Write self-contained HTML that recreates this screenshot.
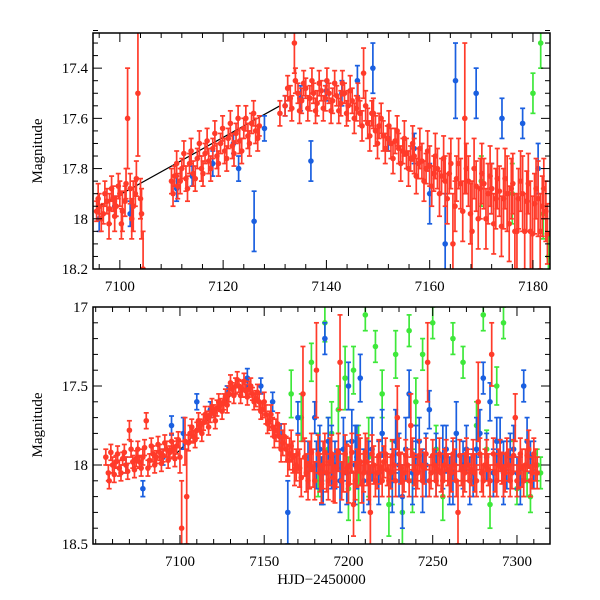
<!DOCTYPE html>
<html><head><meta charset="utf-8"><style>
body{margin:0;background:#fff}
svg{display:block}
text{font-family:"Liberation Serif",serif;font-size:15px;fill:#000}
</style></head><body>
<svg id="c" width="600" height="600" xmlns="http://www.w3.org/2000/svg"></svg>
<script>
// Top panel data (t, mag, err)
const topRed=[7095.5,17.97,.04,7096,17.95,.05,7096.8,17.98,.04,7097.5,17.93,.05,7098,17.96,.06,7098.7,17.92,.05,7099.3,17.95,.04,7100,17.9,.05,7100.5,17.97,.08,7101,17.93,.06,7101.5,17.6,.2,7102,17.88,.06,7102.6,17.95,.1,7103,17.9,.05,7103.5,17.5,.25,7104,17.92,.08,7104.5,18.2,.15,7110,17.85,.05,7110.6,17.83,.04,7111.2,17.87,.05,7112,17.8,.04,7112.8,17.84,.05,7113.5,17.78,.04,7114.2,17.82,.05,7115,17.76,.04,7115.8,17.8,.05,7116.5,17.74,.04,7117.2,17.77,.05,7118,17.72,.04,7118.8,17.75,.05,7119.5,17.7,.04,7120.3,17.73,.05,7121,17.68,.04,7121.8,17.71,.05,7122.5,17.66,.04,7123.2,17.69,.05,7124,17.64,.04,7124.8,17.67,.05,7125.5,17.62,.04,7126.3,17.65,.05,7127,17.63,.04,7132,17.55,.04,7133,17.52,.05,7133.8,17.3,.12,7134.5,17.5,.04,7135.2,17.53,.05,7136,17.48,.04,7136.8,17.52,.05,7137.5,17.5,.04,7138.2,17.54,.05,7139,17.49,.04,7139.8,17.52,.05,7140.5,17.5,.04,7141.2,17.53,.05,7142,17.51,.04,7142.8,17.54,.05,7143.5,17.5,.04,7144.2,17.55,.06,7145,17.53,.05,7145.8,17.56,.05,7146.5,17.58,.05,7147.2,17.42,.1,7148,17.62,.06,7148.8,17.58,.05,7149.5,17.65,.06,7150.2,17.63,.05,7151,17.67,.06,7151.8,17.68,.05,7152.5,17.7,.06,7153.3,17.69,.05,7154,17.72,.06,7154.8,17.73,.05,7155.5,17.74,.06,7156.3,17.76,.05,7157,17.75,.07,7157.8,17.78,.06,7158.5,17.77,.07,7159.3,17.8,.06,7160,17.79,.08,7160.8,17.82,.07,7161.5,17.8,.08,7162.3,17.83,.07,7163,17.85,.1,7163.8,17.82,.08,7164.5,18.1,.2,7165.2,17.84,.09,7166,17.86,.1,7166.8,17.6,.3,7167.5,17.85,.1,7168.2,18.05,.2,7169,17.87,.1,7169.8,17.88,.12,7170.5,17.86,.1,7171.3,17.9,.12,7172,17.88,.1,7172.8,17.92,.12,7173.5,17.89,.1,7174.3,17.92,.12,7175,17.9,.15,7175.8,17.88,.12,7176.5,18.05,.15,7177.2,17.92,.12,7178,17.9,.15,7178.8,17.93,.12,7179.5,18.05,.2,7180.3,17.94,.12,7181,17.92,.15,7181.8,17.95,.12,7182.5,17.97,.12];
const topRed2=[7095.8,17.92,.06,7096.4,18.0,.05,7097.1,17.9,.05,7097.9,18.02,.06,7098.4,17.88,.05,7099,17.99,.06,7099.7,17.87,.05,7100.3,18.02,.06,7101.2,17.86,.06,7102.3,18.0,.08,7103.2,17.84,.07,7104.2,17.98,.1,7110.3,17.9,.05,7111,17.78,.05,7111.7,17.85,.05,7112.4,17.74,.05,7113.1,17.88,.05,7113.8,17.73,.05,7114.6,17.84,.05,7115.4,17.7,.05,7116.1,17.82,.05,7116.9,17.69,.05,7117.6,17.8,.05,7118.4,17.66,.05,7119.1,17.78,.05,7119.9,17.64,.05,7120.7,17.76,.05,7121.4,17.62,.05,7122.1,17.74,.05,7122.9,17.6,.05,7123.6,17.73,.05,7124.4,17.6,.05,7125.1,17.7,.05,7125.9,17.58,.05,7126.7,17.68,.05,7131,17.58,.05,7132.5,17.48,.05,7133.3,17.56,.05,7134,17.45,.05,7134.8,17.57,.05,7135.6,17.46,.05,7136.4,17.56,.05,7137.2,17.45,.05,7137.9,17.57,.05,7138.6,17.46,.05,7139.4,17.56,.05,7140.1,17.45,.05,7140.9,17.57,.05,7141.6,17.46,.05,7142.4,17.57,.05,7143.1,17.46,.05,7143.9,17.58,.05,7144.6,17.49,.06,7145.4,17.6,.06,7146.1,17.52,.06,7146.9,17.63,.06,7147.6,17.55,.06,7148.4,17.67,.06,7149.1,17.58,.06,7149.9,17.7,.06,7150.6,17.6,.06,7151.4,17.72,.06,7152.1,17.63,.06,7152.9,17.76,.06,7153.7,17.65,.06,7154.4,17.78,.07,7155.1,17.68,.07,7155.9,17.8,.07,7156.7,17.7,.07,7157.4,17.83,.07,7158.1,17.72,.08,7158.9,17.85,.08,7159.6,17.73,.08,7160.4,17.87,.08,7161.1,17.75,.09,7161.9,17.9,.09,7162.7,17.76,.09,7163.4,17.92,.1,7164.1,17.78,.1,7164.9,17.95,.1,7165.6,17.78,.1,7166.4,17.97,.12,7167.1,17.8,.1,7167.9,17.98,.12,7168.6,17.8,.12,7169.4,18.0,.12,7170.1,17.82,.12,7170.9,18.0,.12,7171.7,17.83,.12,7172.4,18.02,.12,7173.1,17.84,.12,7173.9,18.03,.12,7174.6,17.84,.12,7175.4,18.02,.15,7176.1,17.86,.12,7176.9,18.05,.15,7177.6,17.85,.12,7178.4,18.05,.15,7179.1,17.86,.12,7179.9,18.06,.15,7180.6,17.88,.12,7181.4,18.05,.15,7182.1,17.88,.12,7182.8,18.06,.12];
const topBlue=[7096,18.0,.05,7099,17.95,.04,7102,17.98,.05,7111,17.88,.05,7114,17.83,.04,7118,17.78,.05,7122,17.7,.04,7123,17.8,.05,7126,18.01,.12,7128,17.64,.05,7132,17.55,.04,7135,17.52,.05,7137,17.77,.08,7140,17.49,.04,7143,17.5,.05,7146,17.45,.06,7149,17.4,.1,7152,17.68,.05,7157,17.72,.06,7160,17.9,.12,7163,18.1,.2,7165,17.45,.15,7169,17.5,.1,7172,17.88,.1,7174,17.6,.08,7178,17.62,.06,7181,17.8,.1];
const topGreen=[7170,17.85,.1,7176,17.9,.12,7180,17.5,.08,7181.5,17.3,.1,7182,17.98,.1,7183,18.15,.08];
// Bottom panel data
const botRed=[7058,18.1,.05,7060,18.0,.05,7062,17.98,.04,7064,18.02,.05,7066,17.96,.04,7068,18.0,.05,7070,17.78,.06,7072,17.98,.04,7074,17.96,.05,7076,17.98,.04,7078,17.95,.05,7080,17.72,.05,7082,17.97,.04,7084,17.93,.05,7086,17.95,.04,7088,17.92,.05,7090,17.94,.04,7092,17.9,.05,7094,17.92,.04,7096,17.9,.05,7098,17.88,.05,7100,17.95,.1,7101,18.4,.3,7103,17.85,.15,7104,18.2,.3,7106,17.8,.05,7108,17.82,.04,7110,17.78,.05,7112,17.75,.04,7114,17.73,.05,7116,17.7,.04,7118,17.68,.05,7120,17.66,.04,7122,17.64,.05,7124,17.62,.04,7126,17.6,.05,7129,17.55,.05,7131,17.52,.04,7133,17.5,.05,7135,17.5,.04,7137,17.52,.05,7139,17.53,.04,7141,17.52,.05,7143,17.55,.04,7145,17.58,.05,7147,17.6,.05,7149,17.65,.05,7151,17.68,.06,7153,17.72,.06,7155,17.76,.06,7157,17.78,.07,7159,17.82,.07,7161,17.86,.08,7163,17.9,.08,7165,17.93,.1,7167,17.95,.1,7169,18.0,.1,7171,18.02,.12,7173,17.55,.3,7175,18.05,.12,7177,18.0,.15,7179,18.02,.12,7181,17.4,.3,7183,18.05,.12,7185,18.0,.15,7187,18.05,.12,7189,17.98,.15,7191,18.08,.15,7193,18.02,.12,7195,17.35,.3,7197,18.05,.12,7199,18.02,.15,7201,18.0,.12,7203,18.25,.2,7205,18.02,.12,7207,17.98,.15,7209,18.05,.12,7211,17.98,.15,7213,18.3,.3,7215,18.0,.12,7217,18.05,.1,7219,18.02,.1,7221,17.98,.1,7223,18.03,.1,7225,18.05,.1,7227,18.0,.1,7229,17.7,.2,7231,18.02,.1,7233,18.05,.12,7235,18.0,.1,7237,17.75,.2,7239,18.03,.1,7241,18.05,.1,7243,18.0,.1,7245,18.02,.1,7247,17.35,.25,7249,18.05,.1,7251,18.0,.1,7253,18.03,.1,7255,18.05,.12,7257,18.0,.1,7259,18.03,.1,7261,18.05,.12,7263,18.0,.1,7265,18.3,.2,7267,18.03,.1,7269,18.05,.12,7271,18.0,.1,7273,18.03,.1,7275,18.05,.12,7277,17.6,.25,7279,18.05,.12,7281,18.0,.1,7283,18.03,.1,7285,17.3,.2,7287,18.05,.12,7289,18.0,.1,7291,18.02,.1,7293,18.05,.12,7295,18.0,.1,7297,18.05,.1,7299,17.7,.15,7301,18.05,.1,7303,18.02,.12,7305,18.0,.1,7307,17.9,.12,7309,18.05,.1,7311,18.0,.1];
const botRed2=[7056,17.95,.05,7057.5,18.05,.05,7059,17.92,.05,7061,18.06,.05,7063,17.93,.05,7065,18.05,.05,7067,17.92,.05,7069,18.04,.05,7071,17.9,.05,7073,18.03,.05,7075,17.9,.05,7077,18.02,.05,7079,17.89,.05,7081,18.02,.05,7083,17.88,.05,7085,18.0,.05,7087,17.87,.05,7089,17.99,.05,7091,17.86,.05,7093,17.97,.05,7095,17.85,.05,7097,17.96,.05,7099,17.84,.05,7105,17.86,.05,7107,17.76,.05,7109,17.84,.05,7111,17.72,.05,7113,17.8,.05,7115,17.68,.05,7117,17.76,.05,7119,17.63,.05,7121,17.72,.05,7123,17.6,.05,7125,17.66,.05,7127,17.57,.05,7128,17.62,.05,7130,17.48,.05,7132,17.56,.05,7134,17.46,.05,7136,17.56,.05,7138,17.47,.05,7140,17.57,.05,7142,17.5,.05,7144,17.6,.05,7146,17.54,.05,7148,17.66,.05,7150,17.6,.06,7152,17.74,.06,7154,17.68,.06,7156,17.82,.07,7158,17.74,.07,7160,17.9,.08,7162,17.82,.08,7164,17.97,.1,7166,17.88,.1,7168,18.03,.1,7170,17.93,.12,7172,18.08,.12,7174,17.95,.12,7176,18.1,.12,7178,17.92,.12,7180,18.1,.12,7182,17.93,.12,7184,18.12,.12,7186,17.92,.12,7188,18.1,.12,7190,17.93,.12,7192,18.12,.12,7194,17.92,.12,7196,18.1,.12,7198,17.93,.12,7200,18.12,.12,7202,17.92,.12,7204,18.1,.12,7206,17.93,.12,7208,18.12,.12,7210,17.92,.12,7212,18.1,.12,7214,17.93,.12,7216,18.1,.1,7218,17.94,.1,7220,18.1,.1,7222,17.93,.1,7224,18.1,.1,7226,17.94,.1,7228,18.1,.1,7230,17.93,.1,7232,18.1,.1,7234,17.94,.1,7236,18.1,.1,7238,17.93,.1,7240,18.1,.1,7242,17.94,.1,7244,18.1,.1,7246,17.93,.1,7248,18.1,.1,7250,17.94,.1,7252,18.1,.1,7254,17.93,.1,7256,18.1,.1,7258,17.94,.1,7260,18.1,.1,7262,17.93,.1,7264,18.1,.1,7266,17.94,.1,7268,18.1,.1,7270,17.93,.1,7272,18.1,.1,7274,17.94,.1,7276,18.1,.1,7278,17.93,.1,7280,18.1,.1,7282,17.94,.1,7284,18.1,.1,7286,17.93,.1,7288,18.1,.1,7290,17.94,.1,7292,18.1,.1,7294,17.93,.1,7296,18.1,.1,7298,17.94,.1,7300,18.1,.1,7302,17.93,.1,7304,18.1,.1,7306,17.94,.1,7308,18.1,.1,7310,17.93,.1,7312,18.05,.1];
const botBlue=[7068,18.0,.05,7078,18.15,.05,7090,17.95,.05,7095,17.75,.06,7102,17.8,.1,7110,17.6,.05,7118,17.65,.05,7128,17.55,.05,7140,17.45,.06,7148,17.5,.05,7155,17.6,.06,7160,17.82,.08,7164,18.3,.2,7170,17.7,.1,7176,18.0,.15,7180,17.7,.1,7184,18.1,.15,7186,17.2,.1,7190,17.95,.2,7195,18.1,.2,7200,17.5,.15,7204,18.0,.25,7207,17.45,.15,7212,18.05,.2,7220,17.8,.15,7226,18.1,.2,7232,18.2,.2,7236,17.55,.15,7240,17.95,.2,7244,18.1,.2,7248,17.65,.12,7252,18.0,.2,7256,17.95,.2,7260,18.1,.15,7264,17.8,.2,7268,18.0,.15,7272,18.1,.15,7276,17.9,.2,7280,17.45,.1,7284,17.6,.12,7288,17.85,.15,7292,18.05,.2,7296,17.95,.15,7300,18.05,.1,7304,17.5,.1,7308,17.95,.1];
const botBlue2=[7181,18.0,.15,7183,17.9,.15,7185,18.05,.2,7188,17.85,.15,7192,18.0,.15,7197,17.9,.2,7199,18.05,.2,7202,17.85,.2,7205,17.95,.2,7209,18.1,.2,7214,17.9,.2,7218,18.05,.2,7228,17.85,.2,7230,18.0,.2,7234,17.9,.2,7238,18.05,.2,7242,17.85,.15,7246,18.0,.2,7258,17.9,.15,7262,18.05,.2,7270,17.9,.15,7274,18.05,.15,7278,17.8,.15,7282,17.95,.15,7286,18.05,.15,7290,17.85,.15,7294,18.0,.15,7298,17.9,.15,7302,18.1,.15,7306,17.85,.15,7310,18.0,.15];
const botGreen=[7166,17.55,.15,7172,17.7,.15,7178,17.35,.12,7182,18.0,.2,7186,17.1,.12,7190,17.8,.2,7194,17.65,.15,7198,17.45,.2,7203,17.4,.15,7206,18.05,.3,7210,17.05,.1,7216,17.25,.1,7220,17.55,.15,7224,18.25,.2,7228,17.3,.15,7232,18.3,.2,7236,17.15,.1,7240,17.6,.15,7244,17.3,.1,7250,17.1,.1,7256,18.2,.15,7262,17.2,.1,7268,17.35,.1,7276,17.75,.15,7280,17.05,.1,7284,18.25,.15,7288,17.5,.12,7292,17.1,.1,7296,17.95,.1,7300,18.15,.1,7306,18.1,.1,7312,18.0,.1];
const botGreen2=[7184,18.1,.15,7188,17.9,.2,7200,18.15,.2,7212,17.95,.25,7226,18.05,.2,7238,18.1,.2,7252,17.9,.15,7282,17.9,.12,7302,18.1,.1,7308,18.2,.1,7314,18.05,.1];
const trendT=[7096,7131];
const trendM=[17.95,17.55];
const topXTicks=[7100,7120,7140,7160,7180];
const topYTicks=[17.4,17.6,17.8,18,18.2];
const botXTicks=[7100,7150,7200,7250,7300];
const botYTicks=[17,17.5,18,18.5];

const NS="http://www.w3.org/2000/svg";
const svg=document.getElementById('c');
function mk(tag,attrs,parent){const e=document.createElementNS(NS,tag);for(const k in attrs)e.setAttribute(k,attrs[k]);(parent||svg).appendChild(e);return e;}

function panel(name,box,xr,yr,xt,xminor,yt,yminor,series,ylabelY,showXTitle){
  const g=mk('g',{});
  
  
  const sx=t=>box.x0+(t-xr[0])/(xr[1]-xr[0])*(box.x1-box.x0);
  const sy=m=>box.y0+(m-yr[0])/(yr[1]-yr[0])*(box.y1-box.y0);
  const cid='clip-'+name;
  const cp=mk('clipPath',{id:cid},g);mk('rect',{x:box.x0,y:box.y0,width:box.x1-box.x0,height:box.y1-box.y0},cp);
  const plot=mk('g',{'clip-path':'url(#'+cid+')'},g);
  
  
  const tl=mk('line',{x1:sx(trendT[0]),y1:sy(trendM[0]),x2:sx(trendT[1]),y2:sy(trendM[1]),stroke:'#000','stroke-width':1.2},plot);
  
  
  series.forEach(s=>{
    const sg=mk('g',{},plot);
    
    
    for(let i=0;i<s.d.length;i+=3){
      const x=sx(s.d[i]),y=sy(s.d[i+1]),e=s.d[i+2];
      const ya=sy(s.d[i+1]-e),yb=sy(s.d[i+1]+e);
      const p=mk('g',{stroke:s.c,'stroke-width':1.7,fill:s.c},sg);
      
      
      mk('line',{x1:x,y1:ya,x2:x,y2:yb},p);
      mk('line',{x1:x-2.5,y1:ya,x2:x+2.5,y2:ya},p);
      mk('line',{x1:x-2.5,y1:yb,x2:x+2.5,y2:yb},p);
      mk('circle',{cx:x,cy:y,r:2.8,stroke:'none'},p);
    }
  });
  const fr=mk('rect',{x:box.x0,y:box.y0,width:box.x1-box.x0,height:box.y1-box.y0,fill:'none',stroke:'#000','stroke-width':1.5},g);
  
  
  const ax=mk('g',{stroke:'#000','stroke-width':1},g);
  
  
  for(let t=Math.ceil(xr[0]/xminor)*xminor;t<=xr[1];t+=xminor){
    const major=xt.includes(t),L=major?9:5,x=sx(t);
    mk('line',{x1:x,y1:box.y1,x2:x,y2:box.y1-L},ax);mk('line',{x1:x,y1:box.y0,x2:x,y2:box.y0+L},ax);
  }
  for(let k=Math.round(yr[0]/yminor);k*yminor<=yr[1]+1e-9;k++){
    const m=k*yminor;const major=yt.some(v=>Math.abs(v-m)<1e-6),L=major?9:5,y=sy(m);
    mk('line',{x1:box.x0,y1:y,x2:box.x0+L,y2:y},ax);mk('line',{x1:box.x1,y1:y,x2:box.x1-L,y2:y},ax);
  }
  xt.forEach(t=>{const tx=mk('text',{x:sx(t),y:box.y1+22,'text-anchor':'middle'},g);tx.textContent=t;
    
    });
  yt.forEach(m=>{const tx=mk('text',{x:box.x0-5,y:sy(m)+5,'text-anchor':'end'},g);tx.textContent=m;
    
    });
  const yl=mk('text',{x:0,y:0,transform:'translate(42,'+ylabelY+') rotate(-90)','text-anchor':'middle'},g);
  yl.textContent='Magnitude';
  
  
  if(showXTitle){const xl=mk('text',{x:(box.x0+box.x1)/2,y:box.y1+40,'text-anchor':'middle'},g);xl.textContent='HJD\u22122450000';
    
    }
}
const red='#ff3b2a',blue='#1a5fe0',green='#3ee83a';
panel('top-panel',{x0:93,x1:550,y0:33,y1:269},[7094.8,7183.3],[17.26,18.2],topXTicks,4,topYTicks,0.05,
  [{name:'green-series',d:topGreen,c:green},{name:'blue-series',d:topBlue,c:blue},{name:'red-series',d:topRed.concat(topRed2),c:red}],151,false);
panel('bottom-panel',{x0:93,x1:550,y0:307,y1:544},[7048.4,7319.6],[17,18.5],botXTicks,10,botYTicks,0.1,
  [{name:'green-series',d:botGreen.concat(botGreen2),c:green},{name:'blue-series',d:botBlue.concat(botBlue2),c:blue},{name:'red-series',d:botRed.concat(botRed2),c:red}],425,true);
</script>
</body></html>
